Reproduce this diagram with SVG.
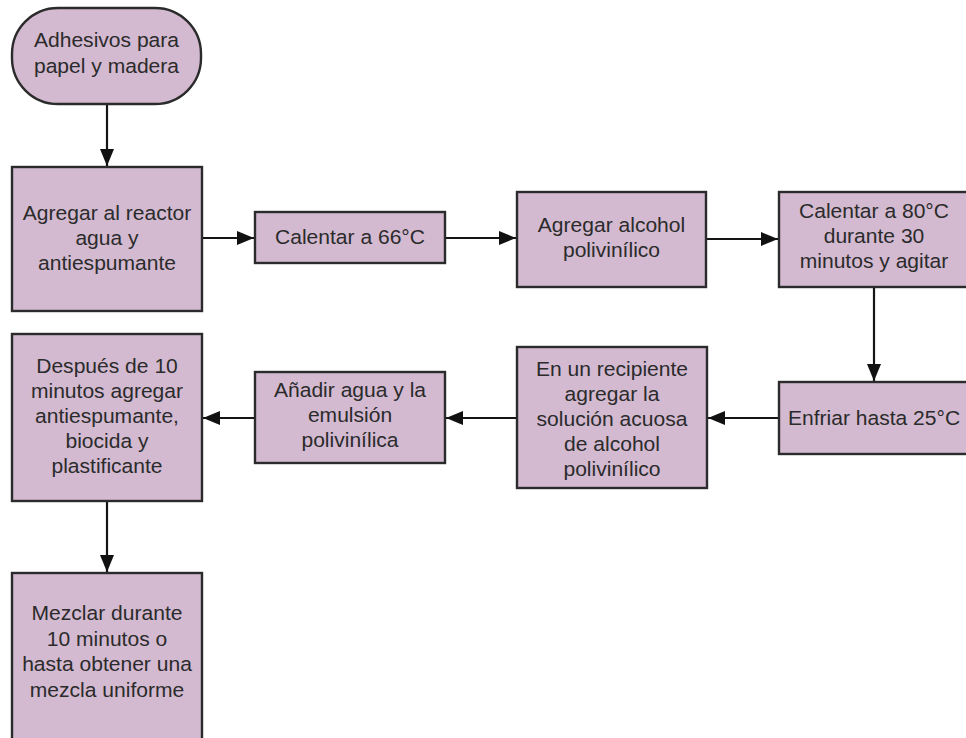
<svg xmlns="http://www.w3.org/2000/svg" width="966" height="738" viewBox="0 0 966 738">
  <defs>
    <style>
      .shape { fill: #d3bad1; stroke: #2b2b2b; stroke-width: 2.4; }
      .label { font-family: "Liberation Sans", Arial, sans-serif; font-size: 19.5px; fill: #2b2b2b; text-anchor: middle; }
      .edge { fill: none; stroke: #151515; stroke-width: 2.2; }
    </style>
    <marker id="arrow" viewBox="0 0 17 14" refX="17" refY="7" markerWidth="17" markerHeight="14" markerUnits="userSpaceOnUse" orient="auto">
      <path d="M0,0 L17,7 L0,14 z" fill="#111111"/>
    </marker>
  </defs>
  <rect width="966" height="738" fill="#ffffff"/>

  <!-- connectors -->
  <g id="connectors">
    <line class="edge" x1="107" y1="104" x2="107" y2="166" marker-end="url(#arrow)"/>
    <line class="edge" x1="202" y1="238" x2="254" y2="238" marker-end="url(#arrow)"/>
    <line class="edge" x1="445" y1="238" x2="516" y2="238" marker-end="url(#arrow)"/>
    <line class="edge" x1="706" y1="239" x2="778" y2="239" marker-end="url(#arrow)"/>
    <line class="edge" x1="874" y1="287" x2="874" y2="381" marker-end="url(#arrow)"/>
    <line class="edge" x1="779" y1="418" x2="708" y2="418" marker-end="url(#arrow)"/>
    <line class="edge" x1="517" y1="418" x2="446" y2="418" marker-end="url(#arrow)"/>
    <line class="edge" x1="255" y1="418" x2="203" y2="418" marker-end="url(#arrow)"/>
    <line class="edge" x1="107" y1="501" x2="107" y2="572" marker-end="url(#arrow)"/>
  </g>

  <!-- start terminal -->
  <g id="n-start">
    <rect class="shape" x="12" y="8" width="189" height="96" rx="46" ry="46"/>
    <g transform="translate(106.5 0) scale(1.08 1)">
      <text class="label" x="0" y="47">Adhesivos para</text>
      <text class="label" x="0" y="73">papel y madera</text>
    </g>
  </g>

  <g id="n-reactor">
    <rect class="shape" x="12" y="167" width="190" height="144"/>
    <g transform="translate(107 0) scale(1.08 1)">
      <text class="label" x="0" y="220">Agregar al reactor</text>
      <text class="label" x="0" y="245">agua y</text>
      <text class="label" x="0" y="270">antiespumante</text>
    </g>
  </g>

  <g id="n-heat66">
    <rect class="shape" x="255" y="212" width="190" height="51"/>
    <g transform="translate(350 0) scale(1.08 1)">
      <text class="label" x="0" y="244">Calentar a 66°C</text>
    </g>
  </g>

  <g id="n-pva">
    <rect class="shape" x="517" y="192" width="189" height="95"/>
    <g transform="translate(611.5 0) scale(1.08 1)">
      <text class="label" x="0" y="232">Agregar alcohol</text>
      <text class="label" x="0" y="257">polivinílico</text>
    </g>
  </g>

  <g id="n-heat80">
    <rect class="shape" x="779" y="192" width="190" height="95"/>
    <g transform="translate(874 0) scale(1.08 1)">
      <text class="label" x="0" y="218">Calentar a 80°C</text>
      <text class="label" x="0" y="243">durante 30</text>
      <text class="label" x="0" y="268">minutos y agitar</text>
    </g>
  </g>

  <g id="n-cool">
    <rect class="shape" x="779" y="382" width="190" height="72"/>
    <g transform="translate(874 0) scale(1.08 1)">
      <text class="label" x="0" y="425">Enfriar hasta 25°C</text>
    </g>
  </g>

  <g id="n-vessel">
    <rect class="shape" x="517" y="347" width="190" height="141"/>
    <g transform="translate(612 0) scale(1.08 1)">
      <text class="label" x="0" y="376">En un recipiente</text>
      <text class="label" x="0" y="401">agregar la</text>
      <text class="label" x="0" y="426">solución acuosa</text>
      <text class="label" x="0" y="451">de alcohol</text>
      <text class="label" x="0" y="476">polivinílico</text>
    </g>
  </g>

  <g id="n-emulsion">
    <rect class="shape" x="255" y="372" width="190" height="91"/>
    <g transform="translate(350 0) scale(1.08 1)">
      <text class="label" x="0" y="397">Añadir agua y la</text>
      <text class="label" x="0" y="422">emulsión</text>
      <text class="label" x="0" y="447">polivinílica</text>
    </g>
  </g>

  <g id="n-additives">
    <rect class="shape" x="12" y="334" width="190" height="167"/>
    <g transform="translate(107 0) scale(1.08 1)">
      <text class="label" x="0" y="373">Después de 10</text>
      <text class="label" x="0" y="398">minutos agregar</text>
      <text class="label" x="0" y="423">antiespumante,</text>
      <text class="label" x="0" y="448">biocida y</text>
      <text class="label" x="0" y="473">plastificante</text>
    </g>
  </g>

  <g id="n-mix">
    <rect class="shape" x="12" y="573" width="190" height="172"/>
    <g transform="translate(107 0) scale(1.08 1)">
      <text class="label" x="0" y="620">Mezclar durante</text>
      <text class="label" x="0" y="646">10 minutos o</text>
      <text class="label" x="0" y="671">hasta obtener una</text>
      <text class="label" x="0" y="697">mezcla uniforme</text>
    </g>
  </g>
</svg>
